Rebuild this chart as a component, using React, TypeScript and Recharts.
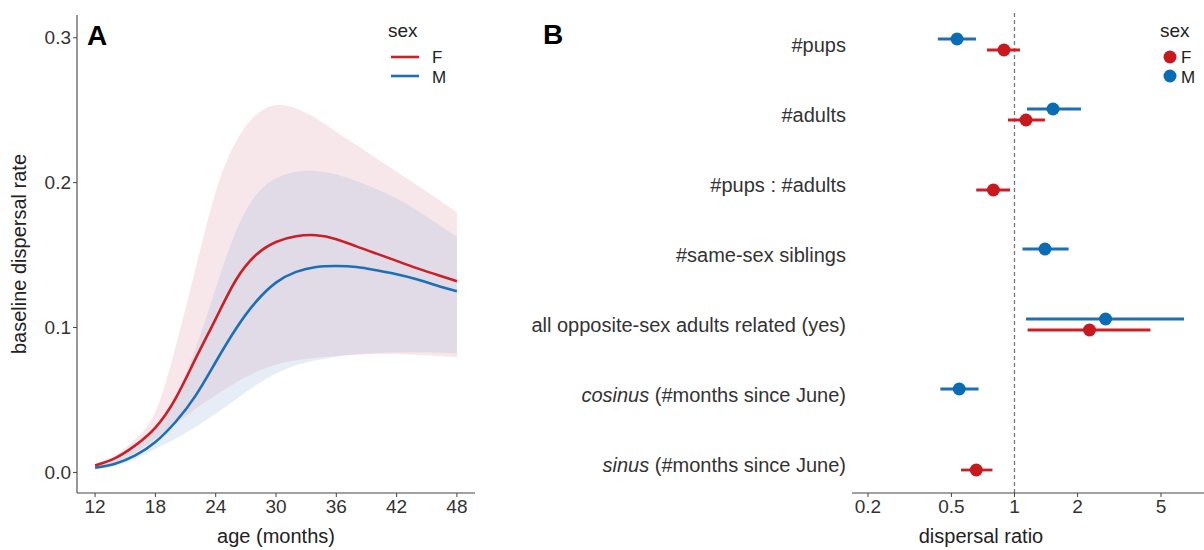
import React from "react";
import {
  ComposedChart,
  Area,
  Line,
  XAxis,
  YAxis,
  ScatterChart,
  Scatter,
  ErrorBar,
  ReferenceLine,
  Label,
} from "recharts";

const FONT = "'Liberation Sans', Arial, Helvetica, sans-serif";
const RED = "#CB1F26";
const BLUE = "#1C6FB5";
const RED_DOT = "#C9191E";
const BLUE_DOT = "#0A6CB5";
const TICK = "#333333";
const TITLE = "#222222";

// ---------- Panel A data ----------
const ages = [12, 14, 16, 18, 20, 22, 24, 26, 28, 30, 32, 34, 36, 38, 40, 42, 44, 46, 48];
const fMean = [0.0048, 0.0099, 0.0187, 0.031, 0.051, 0.0785, 0.106, 0.1326, 0.15, 0.159, 0.163, 0.1637, 0.161, 0.156, 0.151, 0.146, 0.141, 0.1365, 0.132];
const mMean = [0.0032, 0.006, 0.0117, 0.021, 0.0348, 0.053, 0.0762, 0.099, 0.1177, 0.131, 0.1384, 0.1418, 0.1425, 0.1418, 0.1395, 0.1368, 0.1333, 0.129, 0.125];
const fHi = [0.0064, 0.0117, 0.023, 0.0417, 0.0865, 0.1407, 0.1936, 0.228, 0.2466, 0.2535, 0.2512, 0.2443, 0.235, 0.2259, 0.2167, 0.2075, 0.1983, 0.189, 0.1794];
const fLo = [0.0025, 0.0067, 0.0136, 0.0233, 0.0336, 0.044, 0.0532, 0.0619, 0.0693, 0.0744, 0.0774, 0.0792, 0.0804, 0.0813, 0.0817, 0.0817, 0.0813, 0.0806, 0.0797];
const mHi = [0.0044, 0.0083, 0.0163, 0.0313, 0.053, 0.0854, 0.1269, 0.166, 0.1913, 0.2029, 0.2075, 0.2079, 0.2056, 0.201, 0.1955, 0.189, 0.181, 0.1718, 0.1626];
const mLo = [0.0021, 0.0044, 0.0094, 0.0163, 0.0233, 0.0313, 0.0405, 0.0504, 0.0601, 0.0682, 0.074, 0.0774, 0.0799, 0.0815, 0.0824, 0.0829, 0.0829, 0.0827, 0.082];
const ageTicks = [12, 18, 24, 30, 36, 42, 48];
const rateTicks = [0, 0.1, 0.2, 0.3];

// ---------- Panel B data ----------
const catItalic = ["", "", "", "", "", "cosinus", "sinus"];
const catText = [
  "#pups",
  "#adults",
  "#pups : #adults",
  "#same-sex siblings",
  "all opposite-sex adults related (yes)",
  " (#months since June)",
  " (#months since June)",
];
const catTicks = [0, 1, 2, 3, 4, 5, 6];
const fCat = [0, 1, 2, 4, 6];
const fEst = [0.891, 1.135, 0.793, 2.28, 0.657];
const fLow = [0.739, 0.931, 0.657, 1.155, 0.556];
const fHigh = [1.062, 1.397, 0.952, 4.45, 0.785];
const mCat = [0, 1, 3, 4, 5];
const mEst = [0.532, 1.527, 1.398, 2.72, 0.545];
const mLow = [0.431, 1.147, 1.092, 1.135, 0.443];
const mHigh = [0.655, 2.076, 1.812, 6.44, 0.674];
const ratioTicks = [0.2, 0.5, 1, 2, 5];
const DODGE = 0.0786;

const dataA = ages.map((age, i) => ({
  age,
  F: fMean[i],
  M: mMean[i],
  Fci: [fLo[i], fHi[i]],
  Mci: [mLo[i], mHi[i]],
}));

const dataF = fCat.map((c, i) => ({
  x: fEst[i],
  y: c + DODGE,
  err: [fEst[i] - fLow[i], fHigh[i] - fEst[i]],
}));
const dataM = mCat.map((c, i) => ({
  x: mEst[i],
  y: c - DODGE,
  err: [mEst[i] - mLow[i], mHigh[i] - mEst[i]],
}));

const tickStyle = { fill: TICK, fontSize: 19, fontFamily: FONT };

function CatTick(props: any) {
  const { x, y, payload } = props;
  const i = payload.value;
  return (
    <text x={x} y={y} dy="0.355em" textAnchor="end" fill={TICK} fontSize={20} fontFamily={FONT}>
      {catItalic[i] ? <tspan fontStyle="italic">{catItalic[i]}</tspan> : null}
      {catText[i]}
    </text>
  );
}

const dotShape = (color: string) => (props: any) =>
  <circle cx={props.cx} cy={props.cy} r={6.5} fill={color} />;

export default function App() {
  return (
    <div
      style={{
        position: "absolute",
        left: 0,
        top: 0,
        width: 1204,
        height: 550,
        background: "#fff",
        fontFamily: FONT,
        overflow: "hidden",
      }}
    >
      <div style={{ position: "absolute", left: 0, top: 0 }}>
        <ComposedChart width={480} height={550} data={dataA} margin={{ top: 15, right: 5, left: 0, bottom: 0 }}>
          <XAxis
            dataKey="age"
            type="number"
            domain={[10.2, 49.8]}
            allowDataOverflow
            ticks={ageTicks}
            interval={0}
            height={57}
            tickSize={4}
            tickMargin={3}
            axisLine={{ stroke: "#444", strokeWidth: 1.1 }}
            tickLine={{ stroke: "#444" }}
            tick={tickStyle}
          >
            <Label
              content={(p: any) => {
                const vb = p.viewBox;
                return (
                  <text x={vb.x + vb.width / 2} y={vb.y + 50} textAnchor="middle" fill={TITLE} fontSize={20} fontFamily={FONT}>
                    age (months)
                  </text>
                );
              }}
            />
          </XAxis>
          <YAxis
            type="number"
            domain={[-0.0142, 0.3157]}
            allowDataOverflow
            ticks={rateTicks}
            interval={0}
            width={77}
            tickSize={4}
            tickMargin={2}
            tickFormatter={(v: number) => v.toFixed(1)}
            axisLine={{ stroke: "#444", strokeWidth: 1.1 }}
            tickLine={{ stroke: "#444" }}
            tick={tickStyle}
          >
            <Label
              content={(p: any) => {
                const vb = p.viewBox;
                const cx = 26;
                const cy = vb.y + vb.height / 2;
                return (
                  <text x={cx} y={cy} transform={`rotate(-90, ${cx}, ${cy})`} textAnchor="middle" fill={TITLE} fontSize={20} fontFamily={FONT}>
                    baseline dispersal rate
                  </text>
                );
              }}
            />
          </YAxis>
          <Area dataKey="Fci" type="natural" stroke="none" fill="#F7E6EA" fillOpacity={1} isAnimationActive={false} />
          <Area dataKey="Mci" type="natural" stroke="none" fill="rgb(160,185,225)" fillOpacity={0.25} isAnimationActive={false} />
          <Line dataKey="F" type="natural" stroke={RED} strokeWidth={2.6} dot={false} isAnimationActive={false} />
          <Line dataKey="M" type="natural" stroke={BLUE} strokeWidth={2.6} dot={false} isAnimationActive={false} />
        </ComposedChart>
      </div>

      <div style={{ position: "absolute", left: 480, top: 0 }}>
        <ScatterChart width={724} height={550} margin={{ top: 10, right: 0, left: 0, bottom: 0 }}>
          <XAxis
            dataKey="x"
            type="number"
            scale="log"
            domain={[0.1678, 8.02]}
            allowDataOverflow
            ticks={ratioTicks}
            interval={0}
            height={57}
            tickSize={4}
            tickMargin={3}
            tickFormatter={(v: number) => String(v)}
            axisLine={{ stroke: "#444", strokeWidth: 1.1 }}
            tickLine={{ stroke: "#444" }}
            tick={tickStyle}
          >
            <Label
              content={(p: any) => {
                const vb = p.viewBox;
                return (
                  <text x={vb.x + vb.width / 2 - 47} y={vb.y + 50} textAnchor="middle" fill={TITLE} fontSize={20} fontFamily={FONT}>
                    dispersal ratio
                  </text>
                );
              }}
            />
          </XAxis>
          <YAxis
            dataKey="y"
            type="number"
            domain={[-0.493, 6.407]}
            allowDataOverflow
            reversed
            ticks={catTicks}
            interval={0}
            width={372}
            axisLine={false}
            tickLine={false}
            tickSize={4}
            tickMargin={2}
            tick={<CatTick />}
          />
          <ReferenceLine x={1} stroke="#777" strokeDasharray="4 3" strokeWidth={1.3} />
          <Scatter data={dataM} shape={dotShape(BLUE_DOT)} isAnimationActive={false}>
            <ErrorBar dataKey="err" direction="x" width={0} stroke={BLUE} strokeWidth={2.8} />
          </Scatter>
          <Scatter data={dataF} shape={dotShape(RED_DOT)} isAnimationActive={false}>
            <ErrorBar dataKey="err" direction="x" width={0} stroke={RED} strokeWidth={2.8} />
          </Scatter>
        </ScatterChart>
      </div>

      <svg width={1204} height={550} style={{ position: "absolute", left: 0, top: 0, pointerEvents: "none" }}>
        <text x={87} y={45} fontSize={28} fontWeight="bold" fill="#000" fontFamily={FONT}>A</text>
        <text x={543} y={44} fontSize={28} fontWeight="bold" fill="#000" fontFamily={FONT}>B</text>

        <text x={388} y={37} fontSize={19} fill={TITLE} fontFamily={FONT}>sex</text>
        <line x1={391} x2={419} y1={57} y2={57} stroke={RED} strokeWidth={2.6} />
        <line x1={391} x2={419} y1={76} y2={76} stroke={BLUE} strokeWidth={2.6} />
        <text x={432} y={63} fontSize={17} fill={TITLE} fontFamily={FONT}>F</text>
        <text x={432} y={83} fontSize={17} fill={TITLE} fontFamily={FONT}>M</text>

        <text x={1160} y={37} fontSize={19} fill={TITLE} fontFamily={FONT}>sex</text>
        <circle cx={1170} cy={57} r={6.5} fill={RED_DOT} />
        <circle cx={1170} cy={76} r={6.5} fill={BLUE_DOT} />
        <text x={1181} y={63} fontSize={17} fill={TITLE} fontFamily={FONT}>F</text>
        <text x={1181} y={83} fontSize={17} fill={TITLE} fontFamily={FONT}>M</text>
      </svg>
    </div>
  );
}
